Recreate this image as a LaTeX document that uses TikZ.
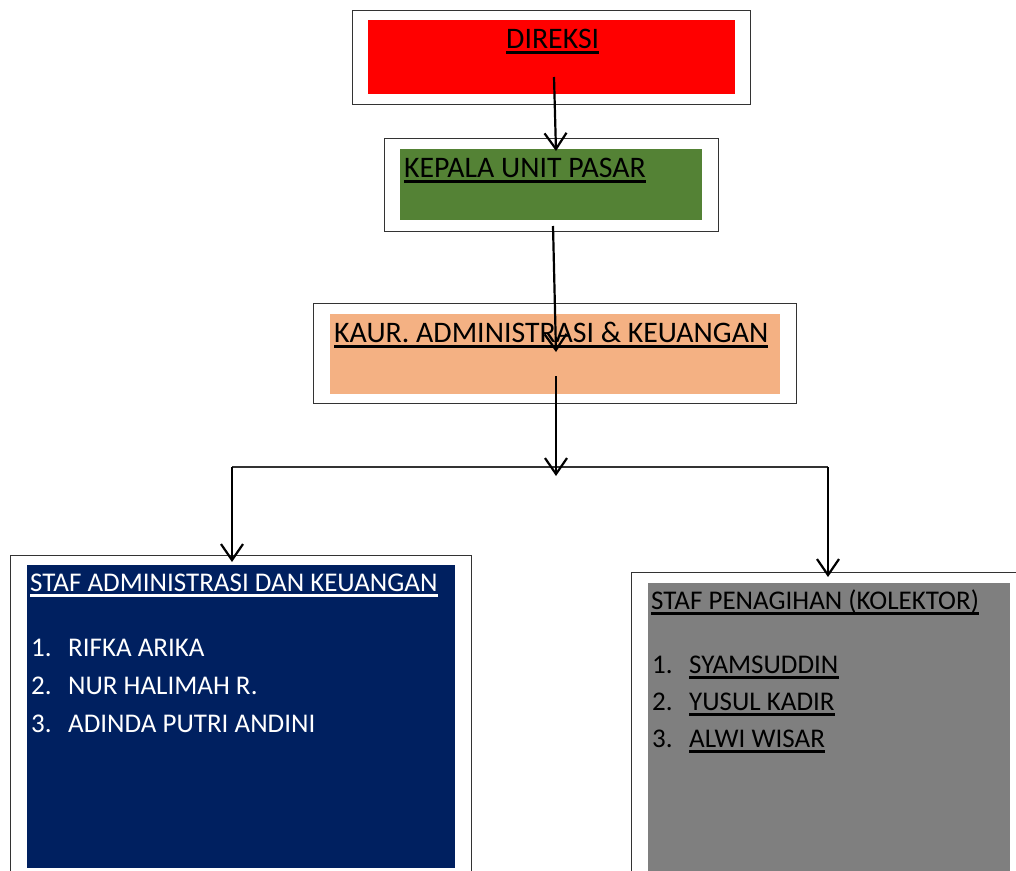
\documentclass[tikz,border=0pt]{standalone}
\usepackage{fontspec}
\setmainfont{Carlito}
\usetikzlibrary{arrows.meta,calc}
\definecolor{boxred}{HTML}{FF0000}
\definecolor{boxgreen}{HTML}{548235}
\definecolor{boxpeach}{HTML}{F4B183}
\definecolor{boxnavy}{HTML}{002060}
\definecolor{boxgray}{HTML}{7F7F7F}
\definecolor{edge}{HTML}{333333}
\begin{document}
\begin{tikzpicture}[x=1pt,y=-1pt,
  outer/.style={draw=edge,line width=1.4pt,anchor=north west,inner sep=0pt,rectangle},
  fillbox/.style={anchor=north west,inner sep=0pt,rectangle,draw=none},
  lbl/.style={anchor=base west,inner sep=0pt,font=\fontsize{27}{33}\selectfont},
  lblbig/.style={anchor=base west,inner sep=0pt,font=\fontsize{29.8}{36}\selectfont},
  arr/.style={line width=2.2pt,-{Straight Barb[length=16pt,width=22pt,line width=2.2pt]}},
  ul/.style={line width=2.3pt}]
\useasboundingbox (0,0) rectangle (1016,870);
\clip (0,0) rectangle (1016,870);
% DIREKSI
\node[outer,minimum width=398pt,minimum height=94pt] (o1) at (352,10) {};
\node[fillbox,fill=boxred,minimum width=367pt,minimum height=74pt] (f1) at (368,20) {};
\node[lblbig] (t1) at (506,48) {DIREKSI};
\draw[ul] ([yshift=-4.5pt]t1.base west) -- ([yshift=-4.5pt]t1.base east);
% KEPALA
\node[outer,minimum width=334pt,minimum height=93pt] (o2) at (384,138) {};
\node[fillbox,fill=boxgreen,minimum width=302pt,minimum height=71pt] (f2) at (400,149) {};
\node[lblbig] (t2) at (404,177) {KEPALA UNIT PASAR};
\draw[ul] ([yshift=-4.5pt]t2.base west) -- ([yshift=-4.5pt]t2.base east);
% KAUR
\node[outer,minimum width=483pt,minimum height=100pt] (o3) at (313,303) {};
\node[fillbox,fill=boxpeach,minimum width=450pt,minimum height=80pt] (f3) at (330,314) {};
\node[lblbig] (t3) at (334,342) {KAUR. ADMINISTRASI \& KEUANGAN};
\draw[ul] ([yshift=-4.5pt]t3.base west) -- ([yshift=-4.5pt]t3.base east);
% STAF ADMINISTRASI
\node[outer,minimum width=461pt,minimum height=400pt] (o4) at (10,555) {};
\node[fillbox,fill=boxnavy,minimum width=428pt,minimum height=303pt] (f4) at (27,565) {};
\node[lbl,text=white] (t4) at (30,591) {STAF ADMINISTRASI DAN KEUANGAN};
\draw[ul,white] ([yshift=-4.5pt]t4.base west) -- ([yshift=-4.5pt]t4.base east);
\node[lbl,text=white] (n41) at (31,656) {1.};
\node[lbl,text=white] (m41) at (68,656) {RIFKA ARIKA};
\node[lbl,text=white] (n42) at (31,694) {2.};
\node[lbl,text=white] (m42) at (68,694) {NUR HALIMAH R.};
\node[lbl,text=white] (n43) at (31,732) {3.};
\node[lbl,text=white] (m43) at (68,732) {ADINDA PUTRI ANDINI};
% STAF PENAGIHAN
\node[outer,minimum width=400pt,minimum height=400pt] (o5) at (631,572) {};
\node[fillbox,fill=boxgray,minimum width=362pt,minimum height=290pt] (f5) at (648,583) {};
\node[lbl] (t5) at (651,609) {STAF PENAGIHAN (KOLEKTOR)};
\draw[ul] ([yshift=-4.5pt]t5.base west) -- ([yshift=-4.5pt]t5.base east);
\node[lbl] (n51) at (652,673) {1.};
\node[lbl] (m51) at (689,673) {SYAMSUDDIN};
\draw[ul] ([yshift=-4.5pt]m51.base west) -- ([yshift=-4.5pt]m51.base east);
\node[lbl] (n52) at (652,710) {2.};
\node[lbl] (m52) at (689,710) {YUSUL KADIR};
\draw[ul] ([yshift=-4.5pt]m52.base west) -- ([yshift=-4.5pt]m52.base east);
\node[lbl] (n53) at (652,747) {3.};
\node[lbl] (m53) at (689,747) {ALWI WISAR};
\draw[ul] ([yshift=-4.5pt]m53.base west) -- ([yshift=-4.5pt]m53.base east);
% connectors
\coordinate (a1s) at (554,77);
\coordinate (a1e) at (556,151);
\coordinate (a2s) at (553,226);
\coordinate (a2e) at (556,352);
\coordinate (a3s) at (556,376);
\coordinate (a3e) at (556,476);
\coordinate (hl) at (232,467);
\coordinate (hr) at (828,467);
\coordinate (a4e) at (232,562);
\coordinate (a5e) at (828,577);
\draw[arr] (a1s) -- (a1e);
\draw[arr] (a2s) -- (a2e);
\draw[line width=1.4pt,edge] (hl) -- (hr);
\draw[arr] (a3s) -- (a3e);
\draw[arr] (hl) -- (a4e);
\draw[arr] (hr) -- (a5e);
\end{tikzpicture}
\end{document}
